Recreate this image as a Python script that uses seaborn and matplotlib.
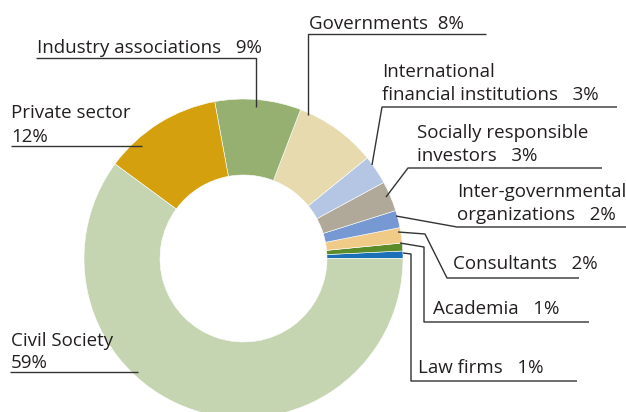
import matplotlib
matplotlib.use("Agg")
import matplotlib.pyplot as plt
import seaborn as sns

categories = ["Law firms", "Academia", "Consultants",
              "Inter-governmental organizations",
              "Socially responsible investors",
              "International financial institutions",
              "Governments", "Industry associations",
              "Private sector", "Civil Society"]
shares = [0.75, 0.8, 1.55, 1.75, 3.05, 2.95, 8.3, 8.7, 12.0, 60.0]
labels_pct = ["1%", "1%", "2%", "2%", "3%", "3%", "8%", "9%", "12%", "59%"]
colors = ["#1c70b8", "#5c8c2a", "#f0ca87", "#7698d3", "#b0a898",
          "#b5c6e4", "#e6daae", "#95b070", "#d5a00e", "#c5d4b1"]

sns.set_style("white")
plt.rcParams['font.family'] = ['Open Sans', 'DejaVu Sans']

fig = plt.figure(figsize=(6.26, 4.12), dpi=100)
ax = fig.add_axes([0, 0, 1, 1])

# axes in pixel units, y going down
ax.pie(shares, colors=colors, startangle=0, counterclock=False,
       center=(243.5, 258.5), radius=159.5,
       wedgeprops=dict(width=76, edgecolor="white", linewidth=0.4))
ax.set_xlim(0, 626)
ax.set_ylim(412, 0)
ax.set_aspect('equal')
ax.axis('off')

txt = dict(fontsize=13.5, color="#231f20", va="baseline", ha="left")
line = dict(color="#333333", lw=1.0, solid_capstyle="butt")

# (text lines with baselines, leader polyline) per label
annotations = {
    "Governments": ([(309, 29, "Governments  " + labels_pct[6])],
                    [(486, 34), (308, 34), (308, 115)]),
    "Industry associations": ([(37, 53, "Industry associations   " + labels_pct[7])],
                              [(36, 58), (256, 58), (256, 107)]),
    "Private sector": ([(11, 118, "Private sector"), (11, 142, labels_pct[8])],
                       [(11, 146), (142, 146)]),
    "International financial institutions": (
        [(382, 77, "International"),
         (382, 100, "financial institutions   " + labels_pct[5])],
        [(617, 107), (382, 107), (372, 165)]),
    "Socially responsible investors": (
        [(417, 138, "Socially responsible"),
         (417, 161, "investors   " + labels_pct[4])],
        [(602, 168), (408, 168), (386, 197)]),
    "Inter-governmental organizations": (
        [(457, 197, "Inter-governmental"),
         (457, 220, "organizations   " + labels_pct[3])],
        [(626, 227), (457, 227), (396, 216)]),
    "Consultants": ([(453, 269, "Consultants   " + labels_pct[2])],
                    [(579, 278), (447, 278), (425, 234), (398, 232)]),
    "Academia": ([(433, 314, "Academia   " + labels_pct[1])],
                 [(589, 322), (424, 322), (424, 247), (400, 243)]),
    "Law firms": ([(418, 373, "Law firms   " + labels_pct[0])],
                  [(577, 381), (411, 381), (411, 254), (403, 253)]),
    "Civil Society": ([(11, 346, "Civil Society"), (11, 368, labels_pct[9])],
                      [(10, 372), (138, 372)]),
}

for name in categories:
    lines, path = annotations[name]
    for x, y, s in lines:
        ax.text(x, y, s, **txt)
    xs, ys = zip(*path)
    ax.plot(xs, ys, **line)

fig.savefig("out.png", dpi=100)
